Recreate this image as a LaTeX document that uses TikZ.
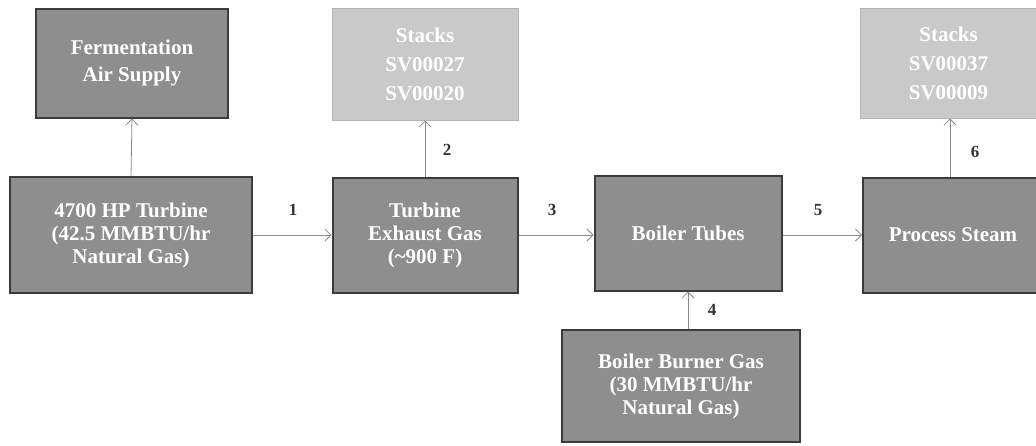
\documentclass[tikz,border=0pt]{standalone}
\usepackage{fontspec}
\setmainfont{Liberation Serif}
\usetikzlibrary{arrows.meta}
\definecolor{darkfill}{HTML}{8E8E8E}
\definecolor{darkline}{HTML}{3C3C3C}
\definecolor{lightfill}{HTML}{C9C9C9}
\definecolor{lightline}{HTML}{B4B4B4}
\definecolor{arrowgray}{HTML}{8A8A8A}
\tikzset{
  darkbox/.style={draw=darkline, line width=2pt, fill=darkfill, text=white, font=\fontsize{21}{23}\selectfont\bfseries, align=center, inner sep=0pt},
  lightbox/.style={draw=lightline, line width=1pt, fill=lightfill, text=white, font=\fontsize{21}{23}\selectfont\bfseries, align=center, inner sep=0pt},
  flow/.style={draw=arrowgray, line width=0.8pt, -{Straight Barb[length=6pt,width=12pt]}},
  num/.style={font=\fontsize{17}{18}\selectfont\bfseries, text=black!80}
}
\begin{document}
\begin{tikzpicture}[x=1pt,y=-1pt]
\useasboundingbox (0,0) rectangle (1036,445);
% top row
\node[darkbox, minimum width=192pt, minimum height=109pt] (ferm) at (132,63) {Fermentation\\[4pt]Air Supply};
\node[lightbox, minimum width=186pt, minimum height=112pt] (stk1) at (425,64) {Stacks\\[6pt]SV00027\\[6pt]SV00020};
\node[lightbox, minimum width=176pt, minimum height=110pt, anchor=west] (stk2) at (860,63) {Stacks\\[6pt]SV00037\\[6pt]SV00009};
% middle row
\node[darkbox, minimum width=242pt, minimum height=116pt] (turb) at (131,235) {4700 HP Turbine\\(42.5 MMBTU/hr\\Natural Gas)};
\node[darkbox, minimum width=185pt, minimum height=115pt] (exh) at (425,235) {Turbine\\Exhaust Gas\\(\textasciitilde900 F)};
\node[darkbox, minimum width=187pt, minimum height=115pt] (boil) at (688,233) {Boiler Tubes};
\node[darkbox, minimum width=180pt, minimum height=115pt, anchor=west] (proc) at (862,235) {Process Steam};
% bottom
\node[darkbox, minimum width=238pt, minimum height=112pt] (burn) at (681,386) {Boiler Burner Gas\\(30 MMBTU/hr\\Natural Gas)};
% connectors
\draw[flow] (turb.north) -- (ferm.south);
\draw[flow] (turb.east) -- (exh.west);
\draw[flow] (exh.north) -- (stk1.south);
\draw[flow] (exh.east) -- (boil.west |- exh.east);
\draw[flow] (boil.east |- proc.west) -- (proc.west);
\draw[flow] (burn.north -| boil.south) -- (boil.south);
\draw[flow] (proc.north -| 950,0) -- (stk2.south -| 950,0);
% labels
\node[num] (n1) at (293,210) {1};
\node[num] (n2) at (447,150) {2};
\node[num] (n3) at (552,210) {3};
\node[num] (n4) at (712,310) {4};
\node[num] (n5) at (818,210) {5};
\node[num] (n6) at (975,152) {6};
\end{tikzpicture}
\end{document}
